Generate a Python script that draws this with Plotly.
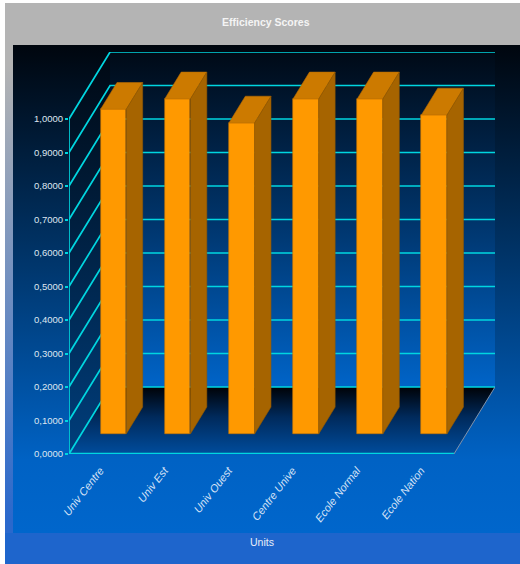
import plotly.graph_objects as go

# ---------------- data ----------------
categories = ["Univ Centre", "Univ Est", "Univ Ouest", "Centre Unive", "Ecole Normal", "Ecole Nation"]
scores = [0.969, 1.0, 0.928, 1.0, 1.0, 0.952]
y_ticks = [0.0, 0.1, 0.2, 0.3, 0.4, 0.5, 0.6, 0.7, 0.8, 0.9, 1.0]
y_tick_labels = ["0,0000", "0,1000", "0,2000", "0,3000", "0,4000", "0,5000",
                 "0,6000", "0,7000", "0,8000", "0,9000", "1,0000"]
chart_title = "Efficiency Scores"
x_title = "Units"

# ---------------- styling / projection ----------------
W, H = 520, 564
DX, DY = 0.64, 0.2          # depth offset of the back wall (x units, y units)
F0, F1 = 0.3, 0.7           # bar front / back depth fractions
HALF = 0.2                  # half bar width
N = len(categories)
YMAX = 1.2
CYAN = "#00d6e0"
FONT = "Liberation Sans"

PX0, PX1 = 69, 495          # chart x-domain in pixels
PY0, PY1 = 454, 52          # chart y-domain in pixels (bottom, top)
xdom = [PX0 / W, PX1 / W]
ydom = [(H - PY0) / H, (H - PY1) / H]

fig = go.Figure()

def bg_poly(xs, ys, **kw):
    fig.add_trace(go.Scatter(x=xs, y=ys, mode="none", fill="toself", xaxis="x", yaxis="y",
                             hoverinfo="skip", showlegend=False, **kw))

# ---- background frame (pixel coordinate subplot) ----
bg_poly([5, W, W, 5, 5], [3, 3, H, H, 3],
        fillgradient=dict(type="vertical", start=3, stop=520,
                          colorscale=[[0, "#b4b4b4"], [0.12, "#b4b4b4"], [1, "#2a68cc"]]))
bg_poly([13, W, W, 13, 13], [45, 45, 533, 533, 45],
        fillgradient=dict(type="vertical", start=45, stop=533,
                          colorscale=[[0, "#00060e"], [0.45, "#00366c"], [0.85, "#0062c4"], [1, "#0066cc"]]))
bg_poly([5, W, W, 5, 5], [533, 533, H, H, 533], fillcolor="#1e65cc")

# ---- walls & floor (chart coordinates, subplot x2y2) ----
def wall(xs, ys, **kw):
    fig.add_trace(go.Scatter(x=xs, y=ys, mode="none", fill="toself", xaxis="x2", yaxis="y2",
                             hoverinfo="skip", showlegend=False, **kw))

top = y_ticks[-1]
wall([0, 0, DX, DX, 0], [0, top, top + DY, DY, 0],
     fillgradient=dict(type="vertical", start=0, stop=top + DY,
                       colorscale=[[0, "#003e7c"], [1, "#000812"]]))
wall([DX, N + DX, N + DX, DX, DX], [DY, DY, top + DY, top + DY, DY],
     fillgradient=dict(type="vertical", start=DY, stop=top + DY,
                       colorscale=[[0, "#0064c8"], [0.5, "#00346a"], [1, "#000a16"]]))
wall([0, N, N + DX, DX, 0], [0, 0, DY, DY, 0],
     fillgradient=dict(type="vertical", start=0, stop=DY,
                       colorscale=[[0, "#004c9c"], [0.55, "#002a5c"], [1, "#000206"]]))

# gridlines: diagonals on side wall + horizontals on back wall
gx, gy = [], []
for v in y_ticks:
    gx += [0, DX, N + DX, None]
    gy += [v, v + DY, v + DY, None]
fig.add_trace(go.Scatter(x=gx, y=gy, mode="lines", line=dict(color=CYAN, width=1.7),
                         xaxis="x2", yaxis="y2", hoverinfo="skip", showlegend=False))
fig.add_trace(go.Scatter(x=[0, 0], y=[0, top], mode="lines", line=dict(color=CYAN, width=1.7),
                         xaxis="x2", yaxis="y2", hoverinfo="skip", showlegend=False))
fig.add_trace(go.Scatter(x=[N, N + DX], y=[0, DY], mode="lines", line=dict(color="#8092aa", width=1),
                         xaxis="x2", yaxis="y2", hoverinfo="skip", showlegend=False))
fig.add_trace(go.Scatter(x=[0, N], y=[0, 0], mode="lines", line=dict(color=CYAN, width=2.5),
                         xaxis="x2", yaxis="y2", hoverinfo="skip", showlegend=False))

# ---- bars (subplot x3y3) ----
a0, b0 = F0 * DX, F0 * DY
a1, b1 = F1 * DX, F1 * DY
centers = [i + 0.5 for i in range(N)]
fig.add_trace(go.Bar(x=[c + a0 for c in centers], y=scores, base=b0, width=2 * HALF,
                     marker=dict(color="#ff9900", line=dict(color="#c47400", width=0.6)),
                     xaxis="x3", yaxis="y3", hoverinfo="skip", showlegend=False))
for c, v in zip(centers, scores):
    xl, xr = c - HALF, c + HALF
    fig.add_trace(go.Scatter(
        x=[xl + a0, xr + a0, xr + a1, xl + a1, xl + a0],
        y=[v + b0, v + b0, v + b1, v + b1, v + b0],
        mode="lines", fill="toself", fillcolor="#cc7a00", line=dict(color="#b86c00", width=0.6),
        xaxis="x3", yaxis="y3", hoverinfo="skip", showlegend=False))
    fig.add_trace(go.Scatter(
        x=[xr + a0, xr + a1, xr + a1, xr + a0, xr + a0],
        y=[b0, b1, v + b1, v + b0, b0],
        mode="lines", fill="toself", fillcolor="#a66400", line=dict(color="#965a00", width=0.6),
        xaxis="x3", yaxis="y3", hoverinfo="skip", showlegend=False))

hidden = dict(visible=False, showgrid=False, zeroline=False, fixedrange=True)
fig.update_layout(
    width=W, height=H,
    margin=dict(l=0, r=0, t=0, b=0, pad=0),
    paper_bgcolor="white", plot_bgcolor="rgba(0,0,0,0)",
    showlegend=False,
    bargap=0,
    xaxis=dict(domain=[0, 1], range=[0, W], anchor="y", **hidden),
    yaxis=dict(domain=[0, 1], range=[H, 0], anchor="x", **hidden),
    xaxis2=dict(domain=xdom, range=[0, N + DX], anchor="y2", showgrid=False, zeroline=False,
                showline=False, tickmode="array", tickvals=centers, ticktext=categories,
                tickangle=-52, ticks="", ticklabelstandoff=7, ticklabelshift=-1, automargin=False,
                tickfont=dict(family=FONT, size=11, color="#d6e2f6", style="italic")),
    yaxis2=dict(domain=ydom, range=[0, YMAX], anchor="x2", showgrid=False, zeroline=False,
                showline=False, tickmode="array", tickvals=y_ticks, ticktext=y_tick_labels,
                ticks="outside", ticklen=3, tickwidth=2, tickcolor=CYAN, automargin=False,
                tickfont=dict(family=FONT, size=9.5, color="#dfe6f0")),
    xaxis3=dict(domain=xdom, range=[0, N + DX], anchor="y3", **hidden),
    yaxis3=dict(domain=ydom, range=[0, YMAX], anchor="x3", **hidden),
    annotations=[
        dict(text="<b>" + chart_title + "</b>", x=266 / W, y=1 - 22 / H, xref="paper", yref="paper",
             xanchor="center", yanchor="middle",
             showarrow=False, font=dict(family=FONT, size=10.5, color="#f4f4f4")),
        dict(text=x_title, x=262 / W, y=1 - 542 / H, xref="paper", yref="paper",
             xanchor="center", yanchor="middle",
             showarrow=False, font=dict(family=FONT, size=10.5, color="#e8eef8")),
    ],
)

fig.write_html("out.html", config={"displayModeBar": False},
               post_script="document.documentElement.style.margin='0';document.body.style.margin='0';"
                           "document.documentElement.style.overflow='hidden';")
